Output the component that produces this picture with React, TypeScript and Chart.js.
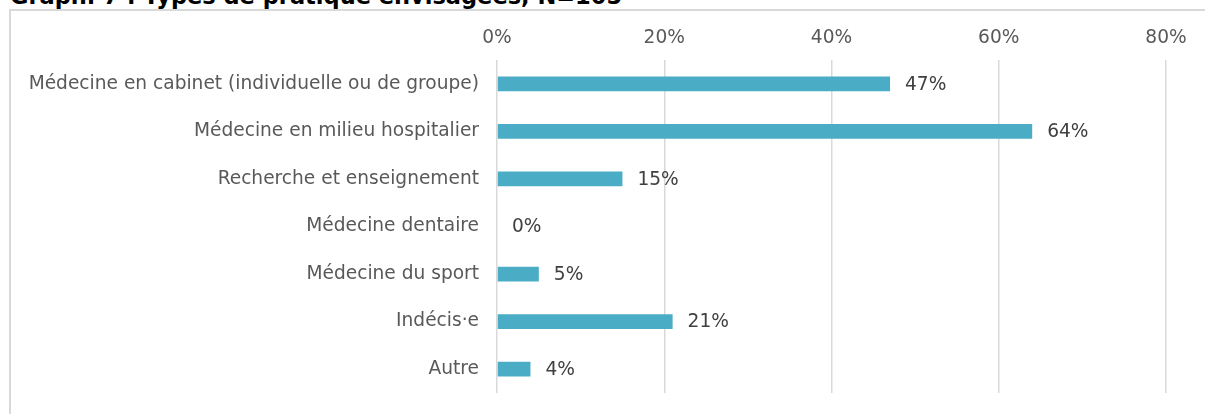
import React, { useEffect, useRef } from "react";
import { Chart, registerables } from "chart.js";

Chart.register(...registerables);

const title = "Graph. 7 : Types de pratique envisagées, N=105";
const categories = [
  "Médecine en cabinet (individuelle ou de groupe)",
  "Médecine en milieu hospitalier",
  "Recherche et enseignement",
  "Médecine dentaire",
  "Médecine du sport",
  "Indécis·e",
  "Autre",
];
const values = [47, 64, 15, 0, 5, 21, 4];
const axisMin = 0;
const axisMax = 80;
const axisStep = 20;

const FONT = "'DejaVu Sans', Verdana, sans-serif";

const labelPlugin = {
  id: "valueLabels",
  afterDatasetsDraw(chart: any) {
    const ctx = chart.ctx;
    const meta = chart.getDatasetMeta(0);
    ctx.save();
    ctx.font = `18.6px ${FONT}`;
    ctx.fillStyle = "#404040";
    ctx.textAlign = "left";
    ctx.textBaseline = "middle";
    meta.data.forEach((bar: any, i: number) => {
      ctx.fillText(`${values[i]}%`, bar.x + 15, bar.y + 1);
    });
    ctx.restore();
  },
};

export default function App() {
  const ref = useRef<HTMLCanvasElement | null>(null);

  useEffect(() => {
    if (!ref.current) return;
    const chart = new Chart(ref.current, {
      type: "bar",
      data: {
        labels: categories,
        datasets: [
          {
            data: values,
            backgroundColor: "#4BACC6",
            borderWidth: 0,
            barPercentage: 0.31,
            categoryPercentage: 1,
          },
        ],
      },
      options: {
        indexAxis: "y",
        animation: false,
        responsive: false,
        maintainAspectRatio: false,
        layout: { padding: { left: 0, right: 39, top: 0, bottom: 21 } },
        plugins: {
          legend: { display: false },
          tooltip: { enabled: false },
          title: { display: false },
        },
        scales: {
          x: {
            position: "top",
            min: axisMin,
            max: axisMax,
            ticks: {
              stepSize: axisStep,
              callback: (v: any) => `${v}%`,
              font: { family: FONT, size: 18.6 },
              color: "#595959",
              padding: 11,
              maxRotation: 0,
            },
            grid: { color: "#d9d9d9", lineWidth: 1.5, drawTicks: false },
            border: { display: false },
            afterFit: (s: any) => {
              s.height = 60;
            },
          },
          y: {
            ticks: {
              font: { family: FONT, size: 18.6 },
              color: "#595959",
              padding: 18,
              autoSkip: false,
            },
            grid: { display: false, drawTicks: false },
            border: { display: false },
            afterFit: (s: any) => {
              s.width = 497;
              s.paddingTop = 0;
              s.paddingBottom = 0;
            },
          },
        },
      },
      plugins: [labelPlugin],
    });
    return () => chart.destroy();
  }, []);

  return (
    <div
      style={{
        position: "fixed",
        left: 0,
        top: 0,
        width: 1205,
        height: 414,
        overflow: "hidden",
        background: "#ffffff",
      }}
    >
      <div
        style={{
          position: "absolute",
          left: 9,
          top: 9,
          width: 1400,
          height: 600,
          border: "2px solid #d9d9d9",
        }}
      />
      <div
        style={{
          position: "absolute",
          left: 10,
          top: -17,
          fontFamily: FONT,
          fontWeight: "bold",
          fontSize: 22.5,
          whiteSpace: "nowrap",
          color: "#000000",
        }}
      >
        {title}
      </div>
      <canvas
        ref={ref}
        width={1205}
        height={414}
        style={{ position: "absolute", left: 0, top: 0, width: 1205, height: 414 }}
      />
    </div>
  );
}
